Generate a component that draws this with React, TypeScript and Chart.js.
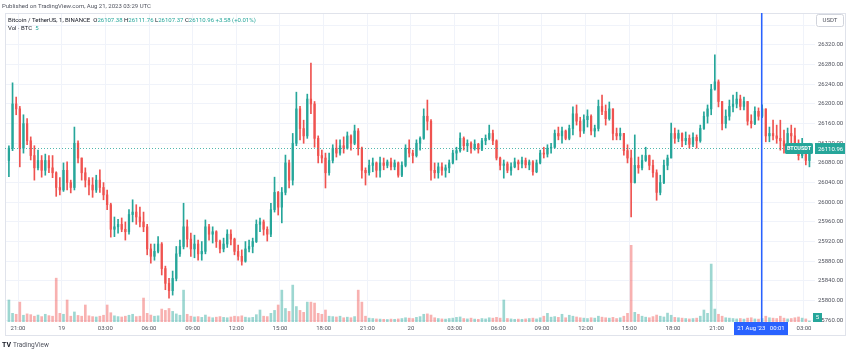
import React, { useEffect, useRef } from "react";
import { Chart, registerables } from "chart.js";

Chart.register(...registerables);

// time in minutes from Aug 18 2023 21:00 UTC; 15-minute candles
const candleStart = -45;
const candleStep = 15;
const firstOpen = 26085;

const closes = [
  26110, 26200, 26190, 26110, 26160, 26125, 26095, 26070, 26085, 26065,
  26085, 26070, 26060, 26030, 26025, 26065, 26040, 26030, 26120, 26090,
  26060, 26045, 26035, 26025, 26045, 26030, 26015, 25995, 25945, 25950,
  25955, 25945, 25940, 25975, 25980, 25970, 25960, 25950, 25905, 25890,
  25900, 25915, 25865, 25835, 25820, 25845, 25895, 25910, 25950, 25925,
  25905, 25915, 25895, 25900, 25950, 25935, 25940, 25920, 25905, 25915,
  25935, 25925, 25900, 25890, 25880, 25905, 25910, 25920, 25955, 25960,
  25945, 25935, 25985, 26020, 25990, 26020, 26080, 26045, 26120, 26190,
  26150, 26135, 26210, 26200, 26130, 26095, 26090, 26060, 26085, 26110,
  26100, 26115, 26110, 26135, 26120, 26145, 26110, 26065, 26060, 26075,
  26080, 26065, 26080, 26075, 26082, 26072, 26080, 26055, 26075, 26110,
  26100, 26095, 26120, 26130, 26175, 26165, 26065, 26060, 26072, 26065,
  26070, 26080, 26100, 26105, 26130, 26115, 26120, 26110, 26118, 26108,
  26125, 26130, 26140, 26125, 26090, 26075, 26078, 26065, 26072, 26082,
  26078, 26085, 26076, 26082, 26062, 26080, 26100, 26098, 26110, 26112,
  26140, 26135, 26145, 26130, 26150, 26180, 26165, 26145, 26168, 26175,
  26145, 26150, 26195, 26185, 26170, 26190, 26140, 26135, 26140, 26105,
  26090, 26040, 26075, 26070, 26085, 26095, 26075, 26060, 26020, 26040,
  26075, 26090, 26140, 26130, 26140, 26125, 26130, 26118, 26132, 26125,
  26150, 26175, 26190, 26230, 26245, 26205, 26160, 26175, 26195, 26200,
  26210, 26195, 26205, 26165, 26160, 26185, 26175, 26190, 26135, 26140,
  26135, 26130, 26125, 26115, 26140, 26135, 26120, 26095, 26105, 26085,
  26110.96,
];

const highs = [
  26115, 26243, 26214, 26195, 26178, 26170, 26133, 26115, 26106, 26095,
  26098, 26095, 26095, 26062, 26050, 26080, 26082, 26045, 26153, 26125,
  26090, 26070, 26050, 26050, 26055, 26066, 26040, 26025, 25998, 25970,
  25965, 25968, 25960, 25985, 26005, 25995, 25990, 25980, 25955, 25915,
  25915, 25930, 25918, 25870, 25845, 25860, 25910, 25923, 25998, 25964,
  25937, 25933, 25923, 25920, 25964, 25955, 25950, 25942, 25923, 25927,
  25944, 25944, 25927, 25913, 25903, 25920, 25923, 25927, 25964, 25968,
  25964, 25950, 25998, 26051, 26022, 26030, 26096, 26086, 26140, 26224,
  26195, 26167, 26220, 26283, 26205, 26135, 26106, 26100, 26100, 26117,
  26127, 26127, 26133, 26143, 26137, 26157, 26150, 26112, 26070, 26086,
  26090, 26082, 26092, 26090, 26086, 26090, 26086, 26082, 26082, 26117,
  26127, 26106, 26127, 26133, 26190, 26208, 26168, 26080, 26080, 26080,
  26076, 26086, 26106, 26112, 26141, 26133, 26127, 26123, 26127, 26120,
  26130, 26137, 26157, 26147, 26127, 26092, 26086, 26082, 26080, 26090,
  26086, 26092, 26090, 26086, 26085, 26086, 26106, 26112, 26117, 26120,
  26147, 26153, 26153, 26147, 26157, 26194, 26198, 26173, 26178, 26188,
  26178, 26157, 26208, 26218, 26198, 26204, 26190, 26151, 26151, 26140,
  26117, 26106, 26137, 26092, 26096, 26112, 26096, 26086, 26066, 26055,
  26086, 26096, 26161, 26151, 26147, 26141, 26143, 26137, 26141, 26137,
  26157, 26184, 26198, 26240, 26300, 26249, 26205, 26188, 26208, 26218,
  26224, 26218, 26214, 26205, 26178, 26194, 26192, 26198, 26190, 26153,
  26167, 26157, 26167, 26147, 26151, 26157, 26151, 26127, 26130, 26117,
  26120,
];

const lows = [
  26052, 26105, 26178, 26072, 26100, 26117, 26086, 26045, 26066, 26051,
  26055, 26060, 26050, 26012, 26015, 26022, 26025, 26019, 26025, 26080,
  26045, 26031, 26015, 26010, 26020, 26020, 26005, 25985, 25929, 25930,
  25937, 25940, 25923, 25935, 25960, 25955, 25950, 25940, 25893, 25876,
  25882, 25897, 25852, 25822, 25805, 25811, 25840, 25890, 25905, 25909,
  25890, 25887, 25882, 25882, 25895, 25923, 25917, 25908, 25897, 25899,
  25908, 25913, 25893, 25882, 25872, 25878, 25899, 25897, 25918, 25940,
  25933, 25921, 25930, 25980, 25974, 25958, 26015, 26029, 26035, 26115,
  26127, 26120, 26130, 26180, 26112, 26080, 26080, 26029, 26055, 26080,
  26092, 26096, 26100, 26108, 26106, 26117, 26096, 26049, 26035, 26055,
  26062, 26051, 26051, 26066, 26070, 26066, 26066, 26051, 26052, 26072,
  26092, 26080, 26092, 26106, 26128, 26147, 26045, 26049, 26049, 26055,
  26051, 26060, 26078, 26086, 26102, 26106, 26103, 26100, 26106, 26100,
  26105, 26117, 26127, 26117, 26086, 26066, 26049, 26060, 26055, 26070,
  26066, 26070, 26070, 26066, 26055, 26060, 26078, 26090, 26092, 26100,
  26110, 26127, 26120, 26127, 26127, 26137, 26157, 26133, 26140, 26153,
  26137, 26133, 26145, 26178, 26157, 26167, 26127, 26127, 26127, 26096,
  26080, 25970, 26039, 26059, 26066, 26083, 26066, 26051, 26004, 26015,
  26038, 26066, 26090, 26120, 26123, 26113, 26117, 26110, 26113, 26110,
  26122, 26148, 26161, 26178, 26228, 26194, 26147, 26151, 26167, 26184,
  26192, 26188, 26188, 26157, 26151, 26158, 26167, 26172, 26123, 26123,
  26127, 26120, 26106, 26100, 26106, 26117, 26106, 26086, 26090, 26076,
  26072,
];

const volumes = [
  114, 45, 40, 103, 35, 42, 38, 30, 36, 28,
  40, 33, 30, 227, 45, 40, 114, 30, 52, 34,
  30, 88, 32, 28, 26, 30, 35, 88, 48, 32,
  28, 26, 30, 35, 40, 28, 30, 124, 45, 36,
  30, 32, 67, 60, 70, 55, 42, 35, 165, 40,
  30, 26, 28, 24, 36, 26, 22, 25, 28, 24,
  22, 26, 30, 28, 32, 25, 22, 24, 38, 62,
  30, 28, 45, 60, 88, 165, 70, 55, 191, 80,
  60, 50, 103, 103, 98, 45, 40, 62, 30, 28,
  26, 30, 22, 25, 22, 28, 165, 103, 30, 20,
  18, 16, 15, 14, 13, 15, 14, 16, 18, 22,
  20, 18, 24, 28, 40, 42, 36, 22, 18, 16,
  15, 18, 20, 24, 26, 18, 16, 20, 15, 14,
  18, 16, 22, 20, 24, 20, 114, 18, 16, 14,
  15, 14, 16, 18, 20, 16, 22, 30, 45, 25,
  28, 24, 40, 22, 35, 30, 26, 22, 20, 18,
  22, 20, 30, 25, 22, 20, 24, 18, 22, 30,
  45, 397, 50, 40, 30, 25, 22, 28, 36, 30,
  26, 46, 35, 24, 22, 20, 18, 16, 18, 20,
  30, 62, 45, 300, 67, 40, 30, 22, 20, 18,
  16, 18, 15, 20, 22, 16, 15, 18, 30, 22,
  20, 18, 30, 20, 16, 18, 22, 26, 20, 16,
  5,
];

const timeTickValues = [0, 180, 360, 540, 720, 900, 1080, 1260, 1440, 1620, 1800, 1980, 2160, 2340, 2520, 2700, 2880, 3060, 3240];
const timeTickLabels = ["21:00", "19", "03:00", "06:00", "09:00", "12:00", "15:00", "18:00", "21:00", "20", "03:00", "06:00", "09:00", "12:00", "15:00", "18:00", "21:00", "21", "03:00"];
const priceTicks = [25760, 25800, 25840, 25880, 25920, 25960, 26000, 26040, 26080, 26120, 26160, 26200, 26240, 26280, 26320, 26360];
const lastPrice = 26110.96;
const lastVolume = "5";
const crosshairTime = 3061;
const crosshairLabel = "21 Aug '23   00:01";

const UP = "#26a69a";
const DOWN = "#ef5350";
const FONT = "Roboto, 'Liberation Sans', Arial, sans-serif";

function buildCandles() {
  return closes.map((c, i) => {
    const o = i === 0 ? firstOpen : closes[i - 1];
    const h = Math.max(highs[i], o, c);
    const l = Math.min(lows[i], o, c);
    const t = candleStart + candleStep * i + 7.5;
    return { t, o, h, l, c, up: c >= o, v: volumes[i] };
  });
}

function roundRect(ctx: CanvasRenderingContext2D, x: number, y: number, w: number, h: number, r: number) {
  ctx.beginPath();
  ctx.moveTo(x + r, y);
  ctx.lineTo(x + w - r, y);
  ctx.quadraticCurveTo(x + w, y, x + w, y + r);
  ctx.lineTo(x + w, y + h - r);
  ctx.quadraticCurveTo(x + w, y + h, x + w - r, y + h);
  ctx.lineTo(x + r, y + h);
  ctx.quadraticCurveTo(x, y + h, x, y + h - r);
  ctx.lineTo(x, y + r);
  ctx.quadraticCurveTo(x, y, x + r, y);
  ctx.closePath();
}

const overlayPlugin = {
  id: "tvOverlay",
  beforeDraw(chart: any) {
    const ctx = chart.ctx as CanvasRenderingContext2D;
    ctx.save();
    ctx.fillStyle = "#ffffff";
    ctx.fillRect(0, 0, chart.width, chart.height);
    ctx.restore();
  },
  afterDraw(chart: any) {
    const ctx = chart.ctx as CanvasRenderingContext2D;
    const area = chart.chartArea;
    const xs = chart.scales.x;
    const ys = chart.scales.y;
    ctx.save();

    // frame
    ctx.strokeStyle = "#e0e3eb";
    ctx.lineWidth = 1;
    ctx.strokeRect(area.left + 0.5, area.top + 0.5, chart.width - area.left - 5, 322);

    // last price dotted line
    const py = Math.round(ys.getPixelForValue(lastPrice)) + 0.5;
    ctx.strokeStyle = "rgba(38,166,154,0.8)";
    ctx.setLineDash([1, 2]);
    ctx.beginPath();
    ctx.moveTo(area.left, py);
    ctx.lineTo(area.right, py);
    ctx.stroke();
    ctx.setLineDash([]);

    // crosshair
    const cx = Math.round(xs.getPixelForValue(crosshairTime));
    ctx.fillStyle = "#2962ff";
    ctx.fillRect(cx, area.top, 1.5, area.bottom - area.top);

    // crosshair time label
    ctx.fillStyle = "#2962ff";
    ctx.fillRect(cx - 27, area.bottom, 54, 13);
    ctx.fillStyle = "#ffffff";
    ctx.font = `6px ${FONT}`;
    ctx.textAlign = "center";
    ctx.textBaseline = "middle";
    ctx.fillText(crosshairLabel, cx, area.bottom + 6.5);

    // last price labels
    ctx.fillStyle = UP;
    roundRect(ctx, area.right - 30, py - 5.5, 28, 11, 1.5);
    ctx.fill();
    ctx.fillRect(area.right, py - 5.5, 30, 11);
    ctx.fillStyle = "#ffffff";
    ctx.font = `bold 5.5px ${FONT}`;
    ctx.textAlign = "center";
    ctx.fillText("BTCUSDT", area.right - 16, py + 0.5);
    ctx.font = `6px ${FONT}`;
    ctx.textAlign = "left";
    ctx.fillText(lastPrice.toFixed(2), area.right + 3, py + 0.5);

    // last volume label
    ctx.fillStyle = UP;
    ctx.fillRect(area.right - 2, area.bottom - 9, 9, 9);
    ctx.fillStyle = "#ffffff";
    ctx.textAlign = "center";
    ctx.fillText(lastVolume, area.right + 2.5, area.bottom - 4.3);

    // USDT box
    ctx.strokeStyle = "#d1d4dc";
    roundRect(ctx, area.right + 1.5, 14.5, 27, 12, 2);
    ctx.fillStyle = "#ffffff";
    ctx.fill();
    ctx.stroke();
    ctx.fillStyle = "#50535e";
    ctx.font = `6px ${FONT}`;
    ctx.textAlign = "center";
    ctx.fillText("USDT", area.right + 15, 20.8);

    // header
    ctx.textAlign = "left";
    ctx.textBaseline = "middle";
    ctx.fillStyle = "#50535e";
    ctx.font = `6px ${FONT}`;
    ctx.fillText("Published on TradingView.com, Aug 21, 2023 03:29 UTC", 2, 6.5);

    const line1: Array<[string, string]> = [
      ["Bitcoin / TetherUS, 1, BINANCE  ", "#131722"],
      ["O", "#131722"], ["26107.38 ", UP],
      ["H", "#131722"], ["26111.76 ", UP],
      ["L", "#131722"], ["26107.37 ", UP],
      ["C", "#131722"], ["26110.96 ", UP],
      ["+3.58 (+0.01%)", UP],
    ];
    let x = 8;
    for (const [t, col] of line1) {
      ctx.fillStyle = col;
      ctx.fillText(t, x, 20);
      x += ctx.measureText(t).width;
    }
    ctx.fillStyle = "#131722";
    ctx.fillText("Vol · BTC", 8, 28.5);
    const w = ctx.measureText("Vol · BTC  ").width;
    ctx.fillStyle = UP;
    ctx.fillText(lastVolume, 8 + w, 28.5);

    // footer logo
    ctx.fillStyle = "#131722";
    ctx.font = `bold 7px ${FONT}`;
    ctx.fillText("TV", 2, 345);
    ctx.font = `6.5px ${FONT}`;
    ctx.fillStyle = "#50535e";
    ctx.fillText("TradingView", 13, 345);

    ctx.restore();
  },
};

export default function App() {
  const ref = useRef<HTMLCanvasElement>(null);

  useEffect(() => {
    const candles = buildCandles();
    const canvas = ref.current!;
    const chart = new Chart(canvas, {
      type: "bar",
      data: {
        datasets: [
          {
            label: "Volume",
            yAxisID: "yv",
            data: candles.map((k) => ({ x: k.t, y: k.v })) as any,
            backgroundColor: candles.map((k) => (k.up ? "rgba(38,166,154,0.45)" : "rgba(239,83,80,0.45)")),
            barThickness: 2,
            grouped: false,
            order: 3,
          } as any,
          {
            label: "Wick",
            data: candles.map((k) => ({ x: k.t, y: [k.l, k.h] })) as any,
            backgroundColor: candles.map((k) => (k.up ? UP : DOWN)),
            barThickness: 1,
            grouped: false,
            order: 2,
          } as any,
          {
            label: "Body",
            data: candles.map((k) => ({ x: k.t, y: [k.o, k.c] })) as any,
            backgroundColor: candles.map((k) => (k.up ? UP : DOWN)),
            barThickness: 1.6,
            minBarLength: 1,
            grouped: false,
            order: 1,
          } as any,
        ],
      },
      options: {
        responsive: false,
        maintainAspectRatio: false,
        animation: false,
        events: [],
        layout: { padding: { left: 5, top: 13, right: 5, bottom: 18 } },
        plugins: { legend: { display: false }, tooltip: { enabled: false } },
        scales: {
          x: {
            type: "linear",
            min: -53.6,
            max: 3285.4,
            offset: false,
            border: { display: false },
            grid: { color: "#f0f3fa", drawTicks: false, offset: false },
            afterBuildTicks: (scale: any) => {
              scale.ticks = timeTickValues.map((v) => ({ value: v }));
            },
            afterFit: (scale: any) => {
              scale.height = 13;
            },
            ticks: {
              autoSkip: false,
              maxRotation: 0,
              padding: 3,
              color: "#50535e",
              font: { size: 6, family: FONT },
              callback: (_v: any, i: number) => timeTickLabels[i],
            },
          },
          y: {
            type: "linear",
            position: "right",
            min: 25756.3,
            max: 26385.1,
            border: { display: false },
            grid: { color: "#f0f3fa", drawTicks: false },
            afterBuildTicks: (scale: any) => {
              scale.ticks = priceTicks.map((v) => ({ value: v }));
            },
            afterFit: (scale: any) => {
              scale.width = 30;
            },
            ticks: {
              padding: 3,
              color: "#50535e",
              font: { size: 6, family: FONT },
              callback: (v: any) => (Number(v) === 26360 ? "" : Number(v).toFixed(2)),
            },
          },
          yv: {
            type: "linear",
            display: false,
            min: 0,
            max: 1600,
          },
        },
      } as any,
      plugins: [overlayPlugin],
    });
    return () => chart.destroy();
  }, []);

  return (
    <div style={{ position: "fixed", left: 0, top: 0, width: 850, height: 353, background: "#ffffff" }}>
      <canvas ref={ref} width={850} height={353} style={{ display: "block", width: 850, height: 353 }} />
    </div>
  );
}
